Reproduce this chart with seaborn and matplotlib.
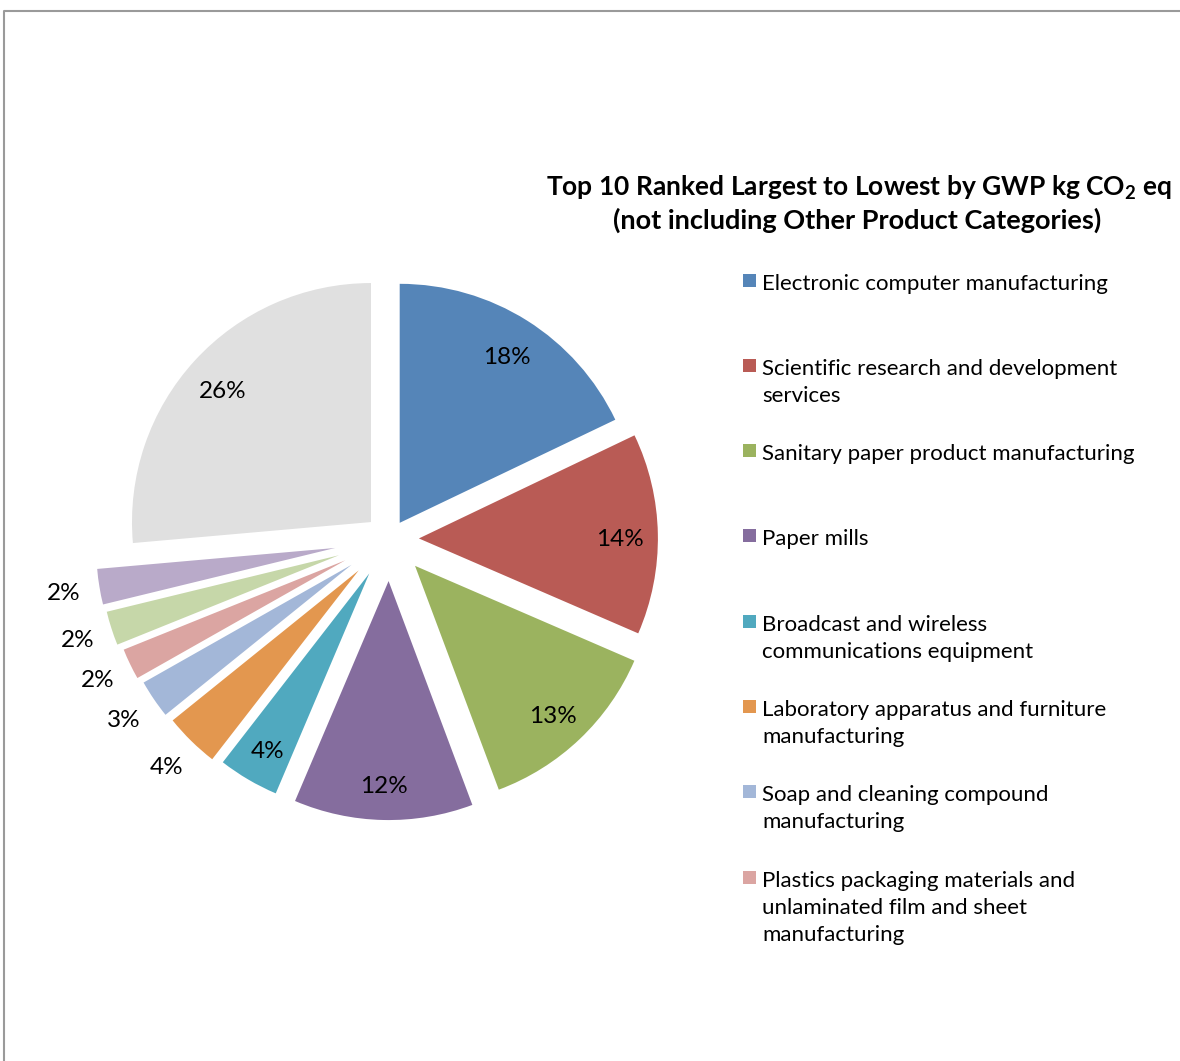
import matplotlib
matplotlib.use("Agg")
import matplotlib.pyplot as plt
import seaborn as sns
import numpy as np
from matplotlib.patches import Rectangle
from matplotlib.lines import Line2D

# Product categories, clockwise from 12 o'clock
categories = [
    "Electronic computer manufacturing",
    "Scientific research and development\nservices",
    "Sanitary paper product manufacturing",
    "Paper mills",
    "Broadcast and wireless\ncommunications equipment",
    "Laboratory apparatus and furniture\nmanufacturing",
    "Soap and cleaning compound\nmanufacturing",
    "Plastics packaging materials and\nunlaminated film and sheet\nmanufacturing",
    "Category 9",
    "Category 10",
    "All remaining categories",
]
# Share of GWP (kg CO2 eq), percent
shares = [17.9, 13.6, 12.8, 12.1, 4.1, 3.7, 2.6, 2.1, 2.3, 2.4, 26.4]
colors = ["#5585B8", "#B95B55", "#9BB35F", "#856D9E", "#50A9BF", "#E3974F",
          "#A3B7D8", "#DBA5A2", "#C6D7A9", "#B9AAC9", "#E0E0E0"]
n_legend = 8

title_line1 = r"Top 10 Ranked Largest to Lowest by GWP kg CO$_\mathbf{2}$ eq"
title_line2 = "(not including Other Product Categories)"

sns.set_theme(style="white")
plt.rcParams["font.family"] = ["Lato", "DejaVu Sans"]
plt.rcParams["mathtext.fontset"] = "custom"
plt.rcParams["mathtext.rm"] = "Lato"
plt.rcParams["mathtext.bf"] = "Lato:bold"

W, H = 1180, 1061
fig = plt.figure(figsize=(W / 100, H / 100), dpi=100)
fig.patch.set_facecolor("white")

# pie geometry in pixels
R_PX = 239.0
CX, CY = 389.5, 539.0
explode = [0.080, 0.123, 0.155, 0.176, 0.167, 0.184, 0.192, 0.205, 0.222, 0.230, 0.105]

ax = fig.add_axes([0, 0, 1, 1])
wedges, _ = ax.pie(shares, colors=colors, startangle=90, counterclock=False,
                   explode=explode, radius=1.0,
                   wedgeprops=dict(linewidth=0))
ax.set_xlim(-CX / R_PX, (W - CX) / R_PX)
ax.set_ylim(-(H - CY) / R_PX, CY / R_PX)
ax.axis("off")

# percentage labels: inside for larger slices, outside for the small ones
for w, v in zip(wedges, shares):
    mid = np.deg2rad((w.theta1 + w.theta2) / 2)
    if v >= 4:
        rho, drop = 0.84, 5.0 / R_PX
    else:
        rho, drop = 1.15, 1.0 / R_PX
    x = w.center[0] + rho * w.r * np.cos(mid)
    y = w.center[1] + rho * w.r * np.sin(mid) - drop
    ax.text(x, y, f"{v:.0f}%", ha="center", va="center", fontsize=17.5,
            color="black")

def fx(px):
    return px / W

def fy(py):
    return 1 - py / H

# title
fig.text(fx(858.5), fy(196), title_line1, ha="center", va="baseline",
         fontsize=19, fontweight="bold", color="black")
fig.text(fx(857), fy(229), title_line2, ha="center", va="baseline",
         fontsize=19.5, fontweight="bold", color="black")

# legend
step = 85.3
for i in range(n_legend):
    top = 273.5 + i * step
    fig.add_artist(Rectangle((fx(743), fy(top + 13)), 13 / W, 13 / H,
                             transform=fig.transFigure, facecolor=colors[i],
                             edgecolor="none"))
    for j, line in enumerate(categories[i].split("\n")):
        fig.text(fx(762), fy(top + 16 + j * 27), line, ha="left",
                 va="baseline", fontsize=16, color="black")

# outer frame
fig.add_artist(Line2D([fx(3.5), fx(3.5), 1.0], [0.0, fy(10.5), fy(10.5)],
                      transform=fig.transFigure, color="#9a9a9a", lw=1.5))

fig.savefig("out.png", dpi=100)
